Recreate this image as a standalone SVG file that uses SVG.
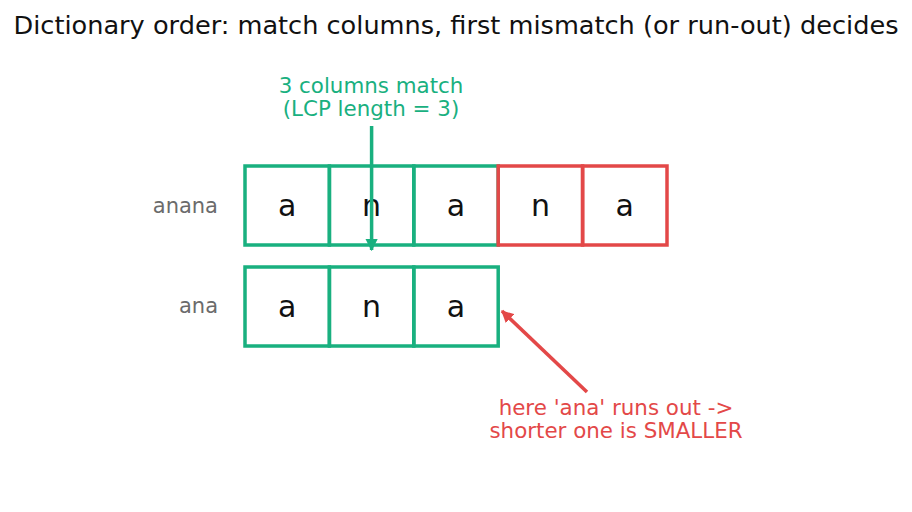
<svg xmlns="http://www.w3.org/2000/svg" width="912" height="512" viewBox="0 0 912 512">
<style>
text{font-family:"DejaVu Sans",sans-serif}
.title{font-size:25.6px;fill:#111}
.lbl{font-size:21px;fill:#6b6b6b;text-anchor:end}
.ch{font-size:30px;fill:#111;text-anchor:middle}
.g{fill:none;stroke:#19b07f;stroke-width:3.5}
.r{fill:none;stroke:#e34848;stroke-width:3.5}
.gt{font-size:21.4px;fill:#19b07f;text-anchor:middle}
.rt{font-size:21.4px;fill:#e34848;text-anchor:middle}
</style>
<defs>
<marker id="ag" viewBox="0 0 10 10" refX="9" refY="5" markerWidth="3.5" markerHeight="3.5" orient="auto"><path d="M0,0 L10,5 L0,10 z" fill="#19b07f"/></marker>
<marker id="ar" viewBox="0 0 10 10" refX="9" refY="5" markerWidth="3.5" markerHeight="3.5" orient="auto"><path d="M0,0 L10,5 L0,10 z" fill="#e34848"/></marker>
</defs>
<rect width="912" height="512" fill="#fff"/>
<text class="title" x="456" y="34" text-anchor="middle">Dictionary order: match columns, first mismatch (or run-out) decides</text>
<g id="row1">
<text class="lbl" x="218" y="213">anana</text>
<rect class="g" x="245" y="166" width="84.4" height="79"/>
<rect class="g" x="329.4" y="166" width="84.4" height="79"/>
<rect class="g" x="413.8" y="166" width="84.4" height="79"/>
<rect class="r" x="498.2" y="166" width="84.4" height="79"/>
<rect class="r" x="582.6" y="166" width="84.4" height="79"/>
<text class="ch" x="287.2" y="216">a</text>
<text class="ch" x="371.6" y="216">n</text>
<text class="ch" x="456" y="216">a</text>
<text class="ch" x="540.4" y="216">n</text>
<text class="ch" x="624.8" y="216">a</text>
</g>
<g id="row2">
<text class="lbl" x="218" y="313">ana</text>
<rect class="g" x="245" y="267" width="84.4" height="79"/>
<rect class="g" x="329.4" y="267" width="84.4" height="79"/>
<rect class="g" x="413.8" y="267" width="84.4" height="79"/>
<text class="ch" x="287.2" y="317">a</text>
<text class="ch" x="371.6" y="317">n</text>
<text class="ch" x="456" y="317">a</text>
</g>
<g id="note-green">
<text class="gt" x="371" y="93">3 columns match</text>
<text class="gt" x="371" y="116">(LCP length = 3)</text>
</g>
<g id="note-red">
<text class="rt" x="616" y="415">here 'ana' runs out -&gt;</text>
<text class="rt" x="616" y="438">shorter one is SMALLER</text>
</g>
<g id="connectors">
<line x1="371.6" y1="126" x2="371.6" y2="250" stroke="#19b07f" stroke-width="3.5" marker-end="url(#ag)"/>
<line x1="587" y1="392" x2="502" y2="311" stroke="#e34848" stroke-width="3.5" marker-end="url(#ar)"/>
</g>
</svg>
